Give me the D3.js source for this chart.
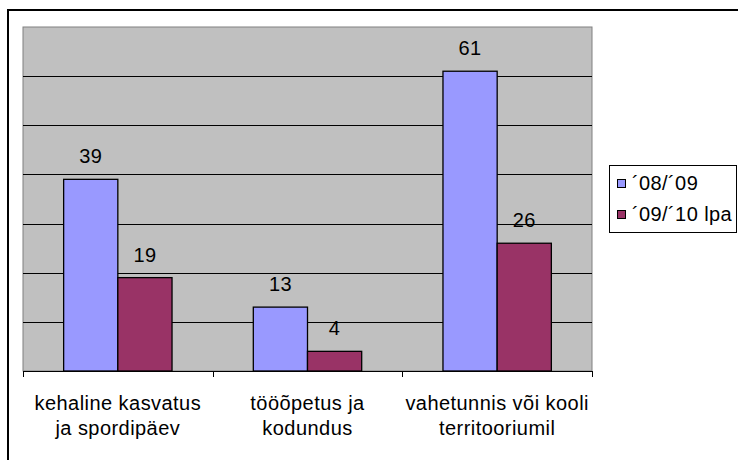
<!DOCTYPE html>
<html lang="et">
  <head>
    <meta charset="UTF-8" />
    <title>Vigastused</title>
    <style>
      body { margin: 0; background: #fff; }
      svg { display: block; font-family: 'Liberation Sans', Arial, sans-serif; }
    </style>
  </head>
  <body>
    <svg id="Chart"></svg>
  </body>
  <script src="https://d3js.org/d3.v7.min.js"></script>
  <script>
    // data
    const categories = [
      ['kehaline kasvatus', 'ja spordipäev'],
      ['tööõpetus ja', 'kodundus'],
      ['vahetunnis või kooli', 'territooriumil'],
    ];
    const seriesNames = ['´08/´09', '´09/´10 lpa'];
    const values0809 = [39, 13, 61];
    const values0910 = [19, 4, 26];
    const yTicks = [0, 10, 20, 30, 40, 50, 60, 70];
    const colors = ['#9999ff', '#993366'];

    function getConfig() {
      let width = 738;
      let height = 460;
      let plot = { left: 23, top: 27, right: 592, bottom: 371 };
      let container = d3.select('#Chart').attr('width', width).attr('height', height);
      return { width, height, plot, container };
    }

    function getScales(config) {
      let { plot } = config;
      let xScale = d3
        .scaleBand()
        .range([plot.left, plot.right])
        .domain(d3.range(categories.length));
      let yScale = d3
        .scaleLinear()
        .range([plot.bottom, plot.top])
        .domain([0, d3.max(yTicks)]);
      return { xScale, yScale };
    }

    function drawFrame(config) {
      let { container, plot } = config;
      // outer chart border, runs off the right and bottom of the picture
      container
        .append('rect')
        .attr('x', 8)
        .attr('y', 10)
        .attr('width', 760)
        .attr('height', 480)
        .attr('fill', '#fff')
        .attr('stroke', '#000')
        .attr('stroke-width', 2);

      container
        .append('rect')
        .attr('x', plot.left)
        .attr('y', plot.top)
        .attr('width', plot.right - plot.left)
        .attr('height', plot.bottom - plot.top)
        .attr('fill', '#c0c0c0')
        .attr('stroke', '#808080')
        .attr('stroke-width', 1);
    }

    function drawGrid(config, scales) {
      let { container, plot } = config;
      let { yScale } = scales;
      container
        .append('g')
        .selectAll('line')
        .data(yTicks.slice(1, -1))
        .enter()
        .append('line')
        .attr('x1', plot.left)
        .attr('x2', plot.right)
        .attr('y1', (d) => Math.round(yScale(d)) + 0.5)
        .attr('y2', (d) => Math.round(yScale(d)) + 0.5)
        .attr('stroke', '#000')
        .attr('stroke-width', 1);
    }

    function drawBars(config, scales) {
      let { container } = config;
      let { xScale, yScale } = scales;
      // excel gap width 150%
      let barW = xScale.bandwidth() / 3.5;
      let series = [values0809, values0910];

      series.forEach((vals, s) => {
        let g = container.append('g');
        g.selectAll('rect')
          .data(vals)
          .enter()
          .append('rect')
          .attr('x', (d, i) => xScale(i) + xScale.bandwidth() / 2 + (s - 1) * barW)
          .attr('y', (d) => yScale(d))
          .attr('width', barW)
          .attr('height', (d) => yScale(0) - yScale(d))
          .attr('fill', colors[s])
          .attr('stroke', '#000')
          .attr('stroke-width', 1.3);

        g.selectAll('text')
          .data(vals)
          .enter()
          .append('text')
          .attr('x', (d, i) => xScale(i) + xScale.bandwidth() / 2 + (s - 0.5) * barW)
          .attr('y', (d) => yScale(d) - 16)
          .attr('text-anchor', 'middle')
          .attr('font-size', 20)
          .attr('letter-spacing', 0.4)
          .attr('fill', '#000')
          .text((d) => d);
      });
    }

    function drawAxis(config, scales) {
      let { container, plot } = config;
      let { xScale } = scales;
      let axis = d3
        .axisBottom(xScale)
        .tickSizeInner(0)
        .tickSizeOuter(0)
        .tickFormat('');
      let g = container
        .append('g')
        .attr('transform', `translate(0,${plot.bottom})`)
        .call(axis);
      g.select('.domain').attr('stroke', '#000');
      g.selectAll('.tick').remove();

      // tick marks sit on the category boundaries
      let bounds = d3.range(categories.length + 1).map((i) =>
        i < categories.length ? xScale(i) : plot.right
      );
      g.selectAll('.bound')
        .data(bounds)
        .enter()
        .append('line')
        .attr('x1', (d) => Math.round(d) + 0.5)
        .attr('x2', (d) => Math.round(d) + 0.5)
        .attr('y1', 0)
        .attr('y2', 6)
        .attr('stroke', '#000');

      let labels = g
        .selectAll('.cat')
        .data(categories)
        .enter()
        .append('text')
        .attr('text-anchor', 'middle')
        .attr('font-size', 20)
        .attr('letter-spacing', 0.45)
        .attr('fill', '#000');
      labels
        .selectAll('tspan')
        .data((d, i) => d.map((line, j) => ({ line, j, i })))
        .enter()
        .append('tspan')
        .attr('x', (d) => xScale(d.i) + xScale.bandwidth() / 2)
        .attr('y', (d) => 39 + d.j * 25)
        .text((d) => d.line);
    }

    function drawLegend(config) {
      let { container } = config;
      let g = container.append('g');
      g.append('rect')
        .attr('x', 609.5)
        .attr('y', 165.5)
        .attr('width', 127)
        .attr('height', 67)
        .attr('fill', '#fff')
        .attr('stroke', '#000');
      let items = g
        .selectAll('.item')
        .data(seriesNames)
        .enter()
        .append('g')
        .attr('transform', (d, i) => `translate(617,${179 + i * 31})`);
      items
        .append('rect')
        .attr('x', 0.5)
        .attr('y', 0.5)
        .attr('width', 8)
        .attr('height', 8)
        .attr('fill', (d, i) => colors[i])
        .attr('stroke', '#000');
      items
        .append('text')
        .attr('x', 15)
        .attr('y', 11)
        .attr('font-size', 20)
        .attr('letter-spacing', 0.4)
        .attr('fill', '#000')
        .text((d) => d);
    }

    let config = getConfig();
    let scales = getScales(config);
    drawFrame(config);
    drawGrid(config, scales);
    drawBars(config, scales);
    drawAxis(config, scales);
    drawLegend(config);
  </script>
</html>
